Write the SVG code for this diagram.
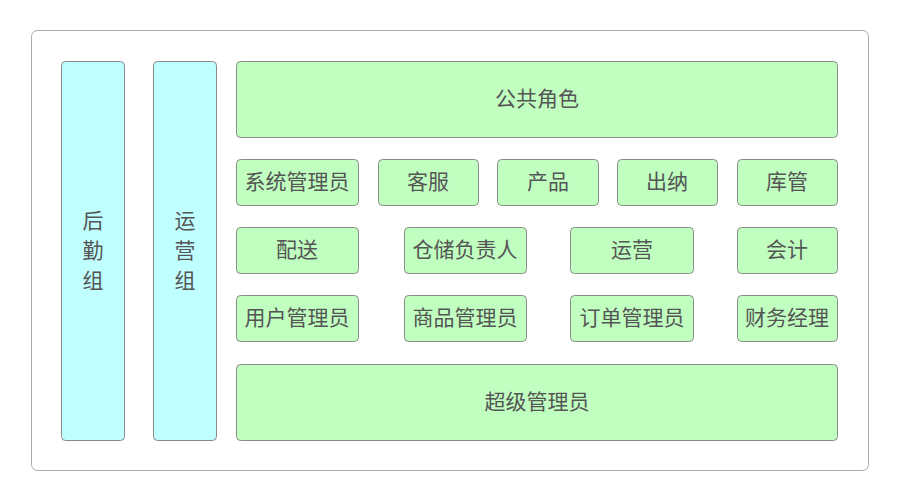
<svg xmlns="http://www.w3.org/2000/svg" width="899" height="502" viewBox="0 0 899 502">
<style>
.b{fill:#c0ffff;stroke:#8a8a8a;stroke-width:1}
.g{fill:#c0ffc0;stroke:#8a8a8a;stroke-width:1}
text{font-family:"Noto Sans CJK SC",sans-serif;font-size:21px;fill:#555;text-anchor:middle;dominant-baseline:central}
</style>
<rect width="899" height="502" fill="#fff"/>
<rect x="31.5" y="30.5" width="837" height="440" rx="6" fill="#fff" stroke="#aaa"/>
<g id="houqin"><rect class="b" x="61.5" y="61.5" width="63" height="379" rx="4"/><text x="93" y="219">后</text><text x="93" y="249">勤</text><text x="93" y="279">组</text></g>
<g id="yunyingzu"><rect class="b" x="153.5" y="61.5" width="63" height="379" rx="4"/><text x="185" y="219">运</text><text x="185" y="249">营</text><text x="185" y="279">组</text></g>
<g id="gonggong"><rect class="g" x="236.5" y="61.5" width="601" height="76" rx="4"/><text x="537" y="97">公共角色</text></g>
<g id="n1"><rect class="g" x="236.5" y="159.5" width="122" height="46" rx="4"/><text x="297" y="180">系统管理员</text></g>
<g id="n2"><rect class="g" x="378.5" y="159.5" width="100" height="46" rx="4"/><text x="428" y="180">客服</text></g>
<g id="n3"><rect class="g" x="497.5" y="159.5" width="101" height="46" rx="4"/><text x="548" y="180">产品</text></g>
<g id="n4"><rect class="g" x="617.5" y="159.5" width="100" height="46" rx="4"/><text x="667" y="180">出纳</text></g>
<g id="n5"><rect class="g" x="737.5" y="159.5" width="100" height="46" rx="4"/><text x="787" y="180">库管</text></g>
<g id="n6"><rect class="g" x="236.5" y="227.5" width="122" height="46" rx="4"/><text x="297" y="248">配送</text></g>
<g id="n7"><rect class="g" x="404.5" y="227.5" width="122" height="46" rx="4"/><text x="465" y="248">仓储负责人</text></g>
<g id="n8"><rect class="g" x="570.5" y="227.5" width="123" height="46" rx="4"/><text x="632" y="248">运营</text></g>
<g id="n9"><rect class="g" x="737.5" y="227.5" width="100" height="46" rx="4"/><text x="787" y="248">会计</text></g>
<g id="n10"><rect class="g" x="236.5" y="295.5" width="122" height="46" rx="4"/><text x="297" y="316">用户管理员</text></g>
<g id="n11"><rect class="g" x="404.5" y="295.5" width="122" height="46" rx="4"/><text x="465" y="316">商品管理员</text></g>
<g id="n12"><rect class="g" x="570.5" y="295.5" width="123" height="46" rx="4"/><text x="632" y="316">订单管理员</text></g>
<g id="n13"><rect class="g" x="737.5" y="295.5" width="100" height="46" rx="4"/><text x="787" y="316">财务经理</text></g>
<g id="chaoji"><rect class="g" x="236.5" y="364.5" width="601" height="76" rx="4"/><text x="537" y="400">超级管理员</text></g>
<g id="connectors"/>
</svg>
